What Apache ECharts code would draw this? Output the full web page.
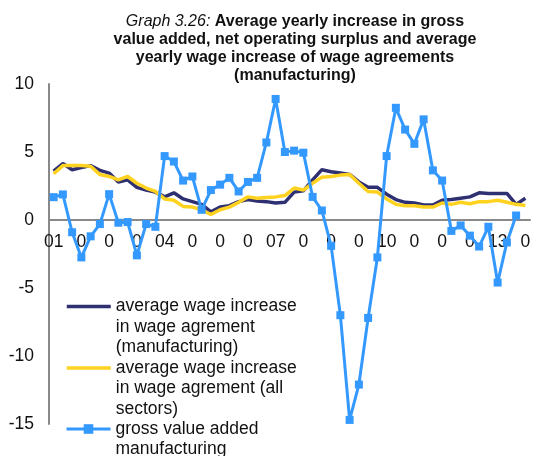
<!DOCTYPE html>
<html>
<head>
<meta charset="utf-8">
<script src="https://cdn.jsdelivr.net/npm/echarts@6/dist/echarts.min.js"></script>
<style>
  html, body { margin: 0; padding: 0; background: #fff; }
  #chart { width: 536px; height: 456px; }
</style>
</head>
<body>
<div id="chart"></div>
<script>
// quarterly categories 2001Q1 .. 2013Q4
const quarters = [
  "2001Q1", "2001Q2", "2001Q3", "2001Q4", "2002Q1", "2002Q2", "2002Q3", "2002Q4",
  "2003Q1", "2003Q2", "2003Q3", "2003Q4", "2004Q1", "2004Q2", "2004Q3", "2004Q4",
  "2005Q1", "2005Q2", "2005Q3", "2005Q4", "2006Q1", "2006Q2", "2006Q3", "2006Q4",
  "2007Q1", "2007Q2", "2007Q3", "2007Q4", "2008Q1", "2008Q2", "2008Q3", "2008Q4",
  "2009Q1", "2009Q2", "2009Q3", "2009Q4", "2010Q1", "2010Q2", "2010Q3", "2010Q4",
  "2011Q1", "2011Q2", "2011Q3", "2011Q4", "2012Q1", "2012Q2", "2012Q3", "2012Q4",
  "2013Q1", "2013Q2", "2013Q3", "2013Q4"
];

const wageManufacturing = [
  3.6, 4.15, 3.7, 3.85, 4.0, 3.65, 3.45, 2.8, 2.95, 2.4,
  2.2, 2.05, 1.7, 2.0, 1.55, 1.35, 1.15, 0.6, 0.95, 1.05,
  1.35, 1.5, 1.4, 1.35, 1.25, 1.3, 2.05, 2.15, 2.95, 3.7,
  3.55, 3.45, 3.35, 2.8, 2.4, 2.4, 1.9, 1.5, 1.3, 1.25,
  1.1, 1.1, 1.45, 1.5, 1.6, 1.7, 2.0, 1.95, 1.95, 1.95,
  1.15, 1.6
];

const wageAllSectors = [
  3.4, 4.0, 4.0, 4.0, 3.95, 3.35, 3.2, 2.95, 3.2, 2.7,
  2.35, 2.1, 1.55, 1.45, 1.0, 0.95, 0.75, 0.4, 0.75, 0.95,
  1.3, 1.7, 1.6, 1.65, 1.7, 1.8, 2.35, 2.2, 2.7, 3.15,
  3.2, 3.3, 3.35, 2.7, 2.1, 2.05, 1.55, 1.15, 1.05, 1.05,
  0.95, 0.95, 1.25, 1.15, 1.3, 1.2, 1.35, 1.35, 1.45, 1.3,
  1.15, 1.07
];

const gvaManufacturing = [
  1.68, 1.88, -0.9, -2.75, -1.2, -0.3, 1.9, -0.2, -0.15, -2.6,
  -0.3, -0.5, 4.7, 4.3, 2.9, 3.2, 0.75, 2.2, 2.6, 3.1,
  2.1, 2.8, 3.1, 5.7, 8.9, 5.0, 5.1, 4.95, 1.7, 0.7,
  -1.9, -7.0, -14.7, -12.1, -7.2, -2.75, 4.7, 8.25, 6.65, 5.6,
  7.4, 3.65, 2.9, -0.8, -0.4, -1.15, -1.95, -0.5, -4.6, -1.65,
  0.33, null
];

const seriesNames = [
  "average wage increase\nin wage agrement\n(manufacturing)",
  "average wage increase\nin wage agrement (all\nsectors)",
  "gross value added\nmanufacturing"
];

const yTicks = { min: -15, max: 10, step: 5 };

const FONT = "'Liberation Sans', Arial, sans-serif";
const TEXT = "#111";
const axisGray = "#898989";
const LH = 20.5;

const gridTop = 84;
const gridBottom = 32;
const plotH = 456 - gridTop - gridBottom;
// x axis sits on the zero line, labels included
const zeroOffset = -(plotH * (0 - yTicks.min) / (yTicks.max - yTicks.min));

const chart = echarts.init(document.getElementById("chart"));

// legend text is centred on its icon; blank lines in front push the
// first real line level with the icon like in the original
function legendAt(name, top, lines, lineWidth, hideSymbol) {
  const lg = {
    data: [name],
    orient: "vertical",
    left: 60,
    top: top,
    itemWidth: 44,
    itemHeight: 12,
    selectedMode: false,
    lineStyle: { width: lineWidth },
    formatter: (n) => "\n".repeat(lines - 1) + n,
    textStyle: { fontFamily: FONT, fontSize: 17.5, lineHeight: LH, color: TEXT }
  };
  if (hideSymbol) lg.itemStyle = { opacity: 0 };
  return lg;
}

chart.setOption({
  animation: false,
  backgroundColor: "#fff",
  title: {
    text: "{i|Graph 3.26:} Average yearly increase in gross\nvalue added, net operating surplus and average\nyearly wage increase of wage agreements\n(manufacturing)",
    left: 290,
    top: 8,
    textAlign: "center",
    textStyle: {
      fontFamily: FONT,
      fontSize: 16,
      fontWeight: "bold",
      lineHeight: 18,
      color: TEXT,
      rich: {
        i: { fontFamily: FONT, fontSize: 16, fontStyle: "italic", fontWeight: "normal", color: TEXT, lineHeight: 18 }
      }
    }
  },
  legend: [
    legendAt(seriesNames[0], 306.5 - 5 - 2.5 * LH, 3, 3.5, true),
    legendAt(seriesNames[1], 368 - 5 - 2.5 * LH, 3, 3.5, true),
    legendAt(seriesNames[2], 429 - 5 - 1.5 * LH, 2, 3, false)
  ],
  grid: { left: 49, right: 6, top: gridTop, bottom: gridBottom },
  xAxis: {
    type: "category",
    data: quarters,
    boundaryGap: true,
    offset: zeroOffset,
    axisLine: { onZero: false, lineStyle: { color: axisGray, width: 2 } },
    axisTick: { show: false },
    splitLine: { show: false },
    axisLabel: {
      interval: 2,
      margin: 13,
      fontFamily: FONT,
      fontSize: 17.5,
      color: TEXT,
      formatter: (v) => (v.endsWith("Q1") ? v.slice(2, 4) : "0")
    }
  },
  yAxis: {
    type: "value",
    min: yTicks.min,
    max: yTicks.max,
    interval: yTicks.step,
    splitLine: { show: false },
    axisTick: { show: false },
    axisLine: { show: true, lineStyle: { color: axisGray, width: 2 } },
    axisLabel: { margin: 15, fontFamily: FONT, fontSize: 17.5, color: TEXT }
  },
  series: [
    {
      name: seriesNames[0],
      type: "line",
      symbol: "none",
      lineStyle: { color: "#2e3072", width: 3.5 },
      itemStyle: { color: "#2e3072" },
      data: wageManufacturing
    },
    {
      name: seriesNames[1],
      type: "line",
      symbol: "none",
      lineStyle: { color: "#ffd21f", width: 3.5 },
      itemStyle: { color: "#ffd21f" },
      data: wageAllSectors
    },
    {
      name: seriesNames[2],
      type: "line",
      symbol: "rect",
      symbolSize: 8,
      showAllSymbol: true,
      lineStyle: { color: "#3399ff", width: 3 },
      itemStyle: { color: "#3399ff" },
      data: gvaManufacturing
    }
  ]
});
</script>
</body>
</html>
